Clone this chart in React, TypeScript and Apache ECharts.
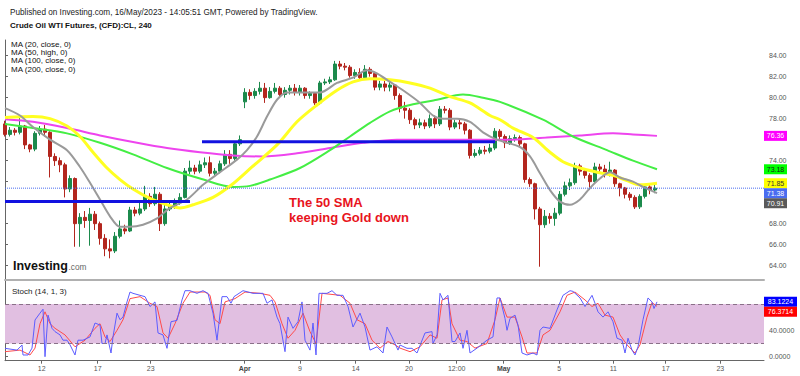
import React, { useEffect, useRef } from 'react';
import * as echarts from 'echarts';

// ---- Candles (4h, resampled), one per slot ----
const opens = [
  77.5, 76.5, 76.9, 76.7, 77.3, 75.5, 75.1, 76.6, 77.0, 76.7,
  74.4, 74.0, 73.6, 71.3, 72.3, 68.0, 68.6, 68.3, 68.9, 68.0,
  66.6, 65.6, 65.4, 66.8, 67.5, 67.3, 69.3, 69.0, 69.4, 70.6,
  69.9, 70.8, 68.0, 69.4, 69.7, 70.0, 70.5, 73.0, 73.3, 73.0,
  73.6, 73.8, 72.8, 73.0, 73.7, 74.6, 74.2, 75.6, 79.6, 80.5,
  80.2, 80.6, 80.9, 80.0, 80.6, 80.9, 80.3, 80.7, 80.9, 80.5,
  80.9, 80.2, 80.4, 79.5, 81.4, 81.5, 81.7, 83.2, 83.0, 82.9,
  82.1, 82.4, 81.9, 82.7, 82.3, 81.0, 81.3, 81.0, 81.2, 80.2,
  79.0, 78.8, 77.9, 77.4, 77.6, 77.3, 78.0, 77.5, 78.9, 78.8,
  77.2, 77.6, 77.5, 76.9, 74.5, 74.7, 75.0, 74.9, 75.2, 76.8,
  76.3, 75.7, 76.1, 76.2, 75.6, 72.2, 71.8, 69.4, 67.9, 68.7,
  68.5, 69.0, 70.8, 71.6, 71.9, 73.5, 73.0, 72.6, 72.0, 73.4,
  73.2, 72.9, 73.1, 71.8, 71.4, 70.8, 70.5, 69.6, 70.6, 71.5,
  71.2,
];
const closes = [
  76.5, 76.9, 76.7, 77.3, 75.5, 75.1, 76.6, 77.0, 76.7, 74.4,
  74.0, 73.6, 71.3, 72.3, 68.0, 68.6, 68.3, 68.9, 68.0, 66.6,
  65.6, 65.4, 66.8, 67.5, 67.3, 69.3, 69.0, 69.4, 70.6, 69.9,
  70.8, 68.0, 69.4, 69.7, 70.0, 70.5, 73.0, 73.3, 73.0, 73.6,
  73.8, 72.8, 73.0, 73.7, 74.6, 74.2, 75.6, 76.0, 80.5, 80.2,
  80.6, 80.9, 80.0, 80.6, 80.9, 80.3, 80.7, 80.9, 80.5, 80.9,
  80.2, 80.4, 79.5, 81.4, 81.5, 81.7, 83.2, 83.0, 82.9, 82.1,
  82.4, 81.9, 82.7, 82.3, 81.0, 81.3, 81.0, 81.2, 80.2, 79.0,
  78.8, 77.9, 77.4, 77.6, 77.3, 78.0, 77.5, 78.9, 78.8, 77.2,
  77.6, 77.5, 76.9, 74.5, 74.7, 75.0, 74.9, 75.2, 76.8, 76.3,
  75.7, 76.1, 76.2, 75.6, 72.2, 71.8, 69.4, 67.9, 68.7, 68.5,
  69.0, 70.8, 71.6, 71.9, 73.5, 73.0, 72.6, 72.0, 73.4, 73.2,
  72.9, 73.1, 71.8, 71.4, 70.8, 70.5, 69.6, 70.6, 71.5, 71.2,
  71.38,
];
const lows = [
  76.3, 76.3, 76.4, 76.5, 75.1, 74.8, 74.9, 76.4, 76.3, 72.4,
  73.5, 72.9, 70.5, 71.0, 65.8, 65.8, 67.6, 65.9, 67.4, 66.0,
  64.9, 64.7, 65.2, 66.6, 67.0, 67.2, 68.7, 68.8, 69.2, 69.6,
  69.7, 67.3, 67.8, 69.2, 69.4, 69.8, 70.4, 72.7, 72.7, 72.8,
  73.3, 72.5, 72.6, 72.8, 73.5, 73.7, 74.0, 75.4, 79.0, 79.8,
  79.9, 80.3, 79.5, 79.9, 80.4, 80.0, 80.0, 80.3, 80.2, 80.2,
  79.9, 79.9, 79.3, 79.3, 81.2, 81.3, 81.6, 82.7, 82.6, 81.9,
  81.8, 81.6, 81.7, 82.0, 80.7, 80.7, 80.6, 80.6, 79.8, 78.6,
  78.0, 77.5, 77.0, 77.1, 77.0, 77.1, 77.1, 77.3, 78.5, 76.9,
  77.0, 77.0, 76.5, 74.2, 74.3, 74.5, 74.6, 74.7, 75.0, 76.0,
  75.2, 75.5, 75.8, 75.3, 71.9, 71.5, 68.4, 63.9, 67.6, 68.0,
  67.8, 68.8, 70.6, 71.2, 71.7, 72.6, 72.3, 71.2, 71.8, 72.8,
  72.4, 72.5, 71.5, 70.6, 70.4, 70.2, 69.4, 69.4, 70.4, 70.8,
  70.9,
];
const highs = [
  77.8, 77.2, 77.1, 78.1, 77.4, 75.6, 76.8, 77.3, 77.4, 76.8,
  74.7, 74.3, 73.8, 72.6, 72.4, 69.0, 69.2, 69.5, 69.2, 68.2,
  67.0, 66.5, 67.2, 68.3, 67.9, 69.6, 69.6, 70.0, 71.6, 70.9,
  71.5, 71.0, 69.8, 70.2, 70.4, 70.9, 73.3, 74.0, 73.6, 74.0,
  74.3, 74.4, 73.3, 74.0, 75.0, 75.0, 75.8, 76.4, 80.9, 80.8,
  80.9, 81.5, 81.4, 81.0, 81.4, 81.1, 81.0, 81.2, 81.3, 81.2,
  81.0, 80.6, 80.5, 81.6, 81.8, 82.0, 83.5, 83.5, 83.3, 83.1,
  82.7, 82.8, 83.1, 82.9, 82.4, 81.6, 81.6, 81.7, 81.3, 80.4,
  79.6, 79.0, 78.1, 78.0, 77.9, 78.4, 78.3, 79.2, 79.2, 79.0,
  77.9, 78.0, 77.7, 77.0, 75.1, 75.3, 75.4, 75.6, 77.1, 77.0,
  76.5, 76.4, 76.5, 76.4, 75.7, 72.4, 71.9, 69.6, 69.3, 69.0,
  69.5, 71.1, 72.0, 72.3, 73.8, 73.7, 73.2, 72.8, 73.8, 73.7,
  73.6, 73.9, 73.2, 71.9, 71.5, 71.0, 70.7, 70.8, 71.7, 71.7,
  71.8,
];

// ---- Moving averages [slot, price] ----
const ma20 = [[0,79.0],[3,78.3],[5.6,77.2],[9,76.0],[12.4,75.0],[15,73.4],[17,71.9],[19,70.3],[21,68.7],[23,67.7],[25,67.7],[27.6,67.9],[30.4,68.5],[33,69.5],[36.4,70.3],[39.6,71.7],[43,72.9],[46.4,74.1],[48.4,75.0],[50.4,76.3],[52.4,78.2],[54.4,79.8],[56.4,80.5],[59.6,80.5],[63,80.5],[66.4,81.4],[69.6,81.9],[72.4,82.6],[74.4,82.3],[77,81.5],[79.6,80.7],[83,79.5],[85.6,78.3],[87.6,78.0],[90.4,78.0],[93,77.7],[95.6,76.7],[98.4,76.0],[103,75.3],[105,74.4],[107,72.8],[109,71.2],[111,70.1],[113,69.8],[115,70.3],[117,71.4],[119,72.3],[121,72.9],[123,72.4],[125.6,72.0],[127.6,71.5],[130.4,70.91]];
const ma50 = [[0,78.1],[5.6,78.2],[9,78.0],[12.4,77.3],[15,76.3],[17.6,74.8],[20.4,73.3],[23,72.2],[25.6,71.3],[29,70.4],[32.4,69.8],[35,69.5],[37.6,69.8],[41.6,70.5],[45.6,71.8],[49.4,73.4],[54.4,75.5],[58.4,77.7],[62.4,79.3],[66.4,80.7],[69.6,81.5],[73,81.8],[77,81.7],[81,81.4],[85,80.9],[89,80.1],[93,79.5],[97,78.3],[99,77.9],[101.6,77.1],[105.6,76.2],[109,74.8],[111.6,73.9],[115,73.3],[118.4,72.9],[121.6,72.6],[124.4,72.1],[127,71.7],[130.4,71.85]];
const ma100 = [[0,77.5],[5.6,77.1],[12.4,76.6],[19,75.7],[25.6,74.6],[32.4,73.3],[39,72.3],[45.6,71.5],[49,71.6],[53,72.2],[59,73.3],[65,75.0],[69,76.3],[73,77.6],[77,78.7],[81,79.3],[86.4,79.8],[91.6,80.3],[95.6,80.0],[99,79.6],[107.6,77.9],[113.6,76.3],[120.4,75.0],[125.6,74.0],[130.4,73.18]];
const ma200 = [[0,77.95],[5.6,77.7],[12.4,77.1],[19,76.4],[26.4,75.7],[32.4,75.2],[39,74.8],[45.6,74.5],[51.6,74.4],[58.4,74.7],[65,75.2],[71.6,75.7],[78.4,76.0],[89,76.0],[101.6,76.0],[108.4,76.2],[115,76.4],[121.6,76.6],[125.6,76.5],[130.4,76.36]];

// ---- Stochastic (14,1,3) [slot, value] ----
const stochK = [[0,12.7],[2.4,10],[3.4,17.7],[3.6,2.6],[4.6,2.6],[5.4,13],[6,55.6],[7,66],[7.6,72],[8,0],[8.6,63],[9.4,43],[10,38],[11,33],[11.6,25],[12.4,25],[13,18],[14,2.6],[14.6,25],[15.6,25],[17,30],[18,51],[19,48],[19.4,20],[20,20],[20.4,33],[21.2,5.6],[21.6,30],[22.4,66],[23,56],[23.6,60],[24.4,83],[25,98],[25.6,96],[27,93],[28,91],[29,76],[30,83],[30.6,36],[31.6,33],[32.4,12.7],[33.2,53],[34.4,55],[35.4,86],[36,100],[37,100],[38.4,96],[39.6,100],[40.6,96],[41.6,66],[42.4,25],[43.4,91],[44.4,91],[45.2,81],[45.8,91],[47.6,100],[49.6,96],[51.6,96],[52.4,81],[53.4,86],[54.4,60],[55,50],[56,7.6],[56.6,60],[57.6,43],[58.6,53],[59.4,83],[60,25],[61,10],[61.6,51],[62.2,2.6],[62.8,96],[64.4,96],[65.4,100],[66.4,93],[67.6,93],[68.6,76],[69.6,45],[71,66],[72,45],[73,10],[74.4,15],[75.6,5.6],[76.4,45],[77.4,30],[78.6,10],[79,17.7],[80.4,12.7],[81.4,12.7],[82.4,5.6],[84,36],[85.4,38],[85.6,20],[86.4,33],[87,96],[87.6,86],[88.6,93],[89.4,23],[90,23],[91,36],[91.6,12.7],[92.4,40],[93,5.6],[94.4,13],[96.4,25],[97.6,30],[98.4,89],[99,89],[100,58],[100.4,40],[101,58],[102,63],[102.6,48],[103.4,5.6],[104.4,2.6],[105.6,5.6],[106.4,2.6],[107,40],[107.6,45],[109,43],[110.4,71],[111.6,93],[113,100],[113.6,99],[115,89],[116,76],[117.4,93],[118,81],[118.6,68],[119.6,60],[120.6,68],[121.6,53],[122.4,28],[123.4,25],[124,5.6],[124.6,28],[125.4,10],[126,2.6],[126.6,15],[127.6,56],[128.6,89],[129.4,83],[129.8,73],[130.4,83.1224]];
const stochD = [[0,7.6],[3,10],[5,2.6],[6,13],[7,50],[8,68],[9,50],[10,43],[12,33],[14,15],[16,25],[18,43],[19,50],[20,30],[21,23],[22.4,40],[23.6,56],[25,88],[27,91],[29,81],[30.4,76],[31.6,36],[32.6,28],[34,50],[35.6,81],[37,98],[40,98],[41,93],[42,56],[43,50],[44,83],[46,88],[48,98],[51,96],[53,93],[54,83],[55.4,50],[56.6,28],[58,40],[59.6,66],[61,38],[62.2,20],[63.4,96],[67,93],[69,81],[70.4,56],[72,50],[73.4,25],[75,13],[76.6,23],[78,18],[79,13],[81,7.6],[83,15],[85,33],[86.4,28],[87.4,86],[88.6,89],[89.4,50],[91,25],[92.4,23],[94,13],[96.4,20],[98,56],[99,89],[100.4,60],[102,60],[103.4,30],[104.4,5.6],[106.4,5.6],[107.6,33],[109,40],[111,68],[112.4,93],[114,98],[116,86],[117.4,76],[118.6,81],[120,63],[121.6,60],[123,33],[124.4,18],[126,5.6],[127,18],[128.4,60],[129.4,82],[130.4,76.3714]];

// ---- Axes ----
const tickSlots = [7.34, 18.54, 29.14, 47.94, 59, 70.14, 80.8, 90.34, 99.74, 110.86, 121.66, 132.14, 143.06];
const tickLabels = ['12', '17', '23', 'Apr', '9', '14', '20', '12:00', 'May', '5', '11', '17', '23'];
const monthLabels = ['Apr', 'May'];
const priceTicks = [64, 66, 68, 70, 72, 74, 76, 78, 80, 82, 84];
// labels at 70, 72 and 76 sit behind the value tags in the reference
const priceLabelValues = [64, 66, 68, 74, 78, 80, 82, 84];
const stochTicks = [0, 40, 80];
const stochLabelValues = [0, 40];

// ---- Drawn levels [fromSlot, toSlot, price] ----
const supportLines = [[0, 37, 70.1], [39.4, 98, 75.8]];
const stochBand = [20, 80];

const legendLines = ['MA (20, close, 0)', 'MA (50, high, 0)', 'MA (100, close, 0)', 'MA (200, close, 0)'];
const headerLine1 = 'Published on Investing.com, 16/May/2023 - 14:05:51 GMT, Powered by TradingView.';
const headerLine2 = 'Crude Oil WTI Futures, (CFD):CL, 240';
const noteLines = ['The 50 SMA', 'keeping Gold down'];

const F = '"Liberation Sans", Arial, Helvetica, sans-serif';
const X_MAX = 151.8;
const lastOf = (a: number[][]) => a[a.length - 1][1];
const lastPrice = closes[closes.length - 1];

function buildOption(): any {
  const candleData = opens.map((o, i) => [i, o, closes[i], lows[i], highs[i]]);
  const maLine = (data: number[][], color: string, width: number) => ({
    type: 'line', xAxisIndex: 0, yAxisIndex: 0, data, showSymbol: false, symbol: 'none',
    smooth: 0.3, lineStyle: { color, width }, z: 3, silent: true,
  });
  return {
    animation: false,
    backgroundColor: '#ffffff',
    grid: [
      { left: 5, right: 36, top: 40, height: 240 },
      { left: 5, right: 36, top: 281, height: 79.7 },
    ],
    xAxis: [
      {
        type: 'value', gridIndex: 0, min: 0, max: X_MAX,
        axisLine: { show: true, onZero: false, lineStyle: { color: '#b0b0b0', width: 2 } },
        axisTick: { show: false }, axisLabel: { show: false }, splitLine: { show: false },
      },
      {
        type: 'value', gridIndex: 1, min: 0, max: X_MAX,
        axisLine: { show: true, onZero: false, lineStyle: { color: '#666', width: 1 } },
        axisTick: { show: true, customValues: tickSlots, length: 3, lineStyle: { color: '#666' } },
        axisLabel: {
          customValues: tickSlots, color: '#555', fontSize: 7, fontFamily: F, margin: 4,
          formatter: (v: number) => {
            const i = tickSlots.findIndex((t) => Math.abs(t - v) < 0.01);
            if (i < 0) return '';
            const s = tickLabels[i];
            return monthLabels.includes(s) ? '{b|' + s + '}' : s;
          },
          rich: { b: { fontWeight: 'bold', fontSize: 7, color: '#444', fontFamily: F } },
        },
        splitLine: { show: false },
      },
    ],
    yAxis: [
      {
        type: 'value', gridIndex: 0, position: 'right', min: 62.635, max: 85.49,
        axisLine: { show: true, lineStyle: { color: '#666', width: 1 } },
        axisTick: { show: true, customValues: priceTicks, length: 3, lineStyle: { color: '#666' } },
        axisLabel: { customValues: priceLabelValues, formatter: (v: number) => v.toFixed(2), color: '#555', fontSize: 7, fontFamily: F, margin: 5 },
        splitLine: { show: false },
      },
      {
        type: 'value', gridIndex: 1, position: 'right', min: -6.06, max: 114.7,
        axisLine: { show: true, lineStyle: { color: '#666', width: 1 } },
        axisTick: { show: true, customValues: stochTicks, length: 3, lineStyle: { color: '#666' } },
        axisLabel: { customValues: stochLabelValues, formatter: (v: number) => v.toFixed(4), color: '#555', fontSize: 7, fontFamily: F, margin: 5 },
        splitLine: { show: false },
      },
    ],
    series: [
      {
        type: 'candlestick', xAxisIndex: 0, yAxisIndex: 0, data: candleData,
        encode: { x: 0, y: [1, 2, 3, 4] }, barWidth: 3, z: 2, silent: true,
        itemStyle: { color: '#1c8a4c', color0: '#b3261e', borderColor: '#1c8a4c', borderColor0: '#b3261e', borderWidth: 1 },
      },
      maLine(ma200, '#ee44ee', 2),
      maLine(ma100, '#44ee44', 2),
      maLine(ma50, '#ffff22', 3),
      maLine(ma20, '#9a9a9a', 2),
      {
        type: 'line', xAxisIndex: 0, yAxisIndex: 0, data: [[0, lastPrice], [X_MAX, lastPrice]],
        showSymbol: false, symbol: 'none', lineStyle: { color: '#4a6cf0', width: 1, type: [1, 1] }, z: 4, silent: true,
      },
      ...supportLines.map((s) => ({
        type: 'line', xAxisIndex: 0, yAxisIndex: 0, data: [[s[0], s[2]], [s[1], s[2]]],
        showSymbol: false, symbol: 'none', lineStyle: { color: '#1212e0', width: 3 }, z: 5, silent: true,
      })),
      {
        type: 'line', xAxisIndex: 1, yAxisIndex: 1, data: stochD, showSymbol: false, symbol: 'none',
        lineStyle: { color: '#ff4a4a', width: 1 }, z: 3, silent: true,
        markArea: {
          silent: true, itemStyle: { color: '#e1bfe1' },
          data: [[{ yAxis: stochBand[0] }, { yAxis: stochBand[1] }]],
        },
        markLine: {
          silent: true, symbol: 'none', label: { show: false },
          lineStyle: { color: '#8a7088', type: [4, 3], width: 1 },
          data: [{ yAxis: stochBand[0] }, { yAxis: stochBand[1] }],
        },
      },
      {
        type: 'line', xAxisIndex: 1, yAxisIndex: 1, data: stochK, showSymbol: false, symbol: 'none',
        lineStyle: { color: '#5c5cff', width: 1 }, z: 3, silent: true,
      },
    ],
  };
}

function txt(text: string, x: number, y: number, font: string, fill: string) {
  return {
    type: 'text', x, y, silent: true, z: 100,
    style: { text, font, fill, textVerticalAlign: 'middle', verticalAlign: 'middle' },
  };
}

function staticGraphics(): any[] {
  const g: any[] = [];
  g.push(txt(headerLine1, 10, 12, '8.2px ' + F, '#222'));
  g.push(txt(headerLine2, 10, 25, 'bold 8px ' + F, '#111'));
  legendLines.forEach((l, i) => g.push(txt(l, 11, 44 + i * 8.4, '8px ' + F, '#111')));
  noteLines.forEach((l, i) => g.push(txt(l, 289, 202 + i * 15.5, 'bold 13px ' + F, '#e8141c')));
  g.push(txt('Investing', 13, 265.6, 'bold 12.5px ' + F, '#111'));
  g.push(txt('.com', 68.5, 267, '8.3px ' + F, '#666'));
  g.push(txt('Stoch (14, 1, 3)', 12, 291, '8px ' + F, '#222'));
  return g;
}

function tagGraphics(chart: any): any[] {
  const mainTags = [
    { value: lastOf(ma200), bg: '#ff00ff', fg: '#ffffff' },
    { value: lastOf(ma100), bg: '#00ff00', fg: '#1a1a1a' },
    { value: lastOf(ma50), bg: '#ffff00', fg: '#333333' },
    { value: lastPrice, bg: '#4a6cf0', fg: '#ffffff' },
    { value: lastOf(ma20), bg: '#5a5a5a', fg: '#ffffff' },
  ].map((t) => ({ ...t, y: chart.convertToPixel({ yAxisIndex: 0 }, t.value), digits: 2, w: 23 }));
  const stochTags = [
    { value: lastOf(stochK), bg: '#0000ff', fg: '#ffffff' },
    { value: lastOf(stochD), bg: '#ff0000', fg: '#ffffff' },
  ].map((t) => ({ ...t, y: chart.convertToPixel({ yAxisIndex: 1 }, t.value), digits: 4, w: 33 }));
  const out: any[] = [];
  [mainTags, stochTags].forEach((group) => {
    group.sort((a, b) => a.y - b.y);
    for (let i = 1; i < group.length; i++) {
      if (group[i].y < group[i - 1].y + 10) group[i].y = group[i - 1].y + 10;
    }
    group.forEach((t) => {
      out.push({
        type: 'rect', silent: true, z: 100,
        shape: { x: 764, y: t.y - 5, width: t.w, height: 10 },
        style: { fill: t.bg },
      });
      out.push({
        type: 'text', silent: true, z: 101, x: 764 + t.w / 2, y: t.y,
        style: {
          text: t.value.toFixed(t.digits), font: '7px ' + F, fill: t.fg,
          textAlign: 'center', align: 'center', textVerticalAlign: 'middle', verticalAlign: 'middle',
        },
      });
    });
  });
  return out;
}

export default function App() {
  const ref = useRef<HTMLDivElement>(null);
  useEffect(() => {
    const el = ref.current;
    if (!el) return;
    const chart = echarts.init(el, null, { renderer: 'svg' });
    chart.setOption(buildOption());
    chart.setOption({ graphic: [...staticGraphics(), ...tagGraphics(chart)] });
    return () => chart.dispose();
  }, []);
  return <div ref={ref} style={{ position: 'fixed', left: 0, top: 0, width: 800, height: 376, background: '#fff' }} />;
}
